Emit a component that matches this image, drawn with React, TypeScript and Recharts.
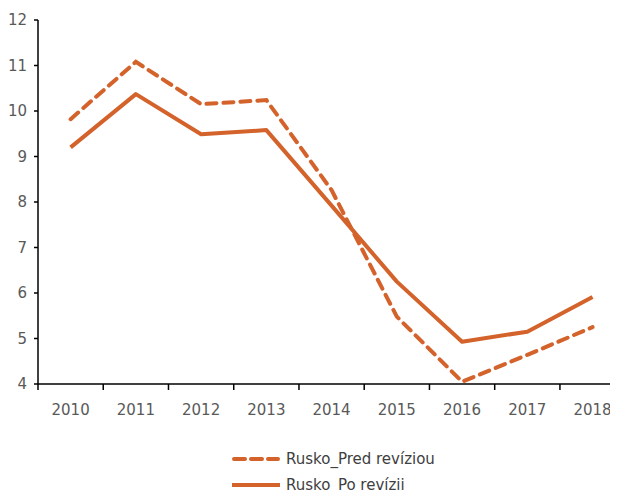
import { LineChart, Line, XAxis, YAxis } from 'recharts';

const years = [2010, 2011, 2012, 2013, 2014, 2015, 2016, 2017, 2018];
const predRevziou = [9.82, 11.08, 10.15, 10.24, 8.26, 5.48, 4.05, 4.64, 5.25];
const poRevizii = [9.2, 10.37, 9.49, 9.58, 7.92, 6.25, 4.93, 5.15, 5.91];
const yTicks = [4, 5, 6, 7, 8, 9, 10, 11, 12];

const data = years.map((year, i) => ({
  year,
  pred: predRevziou[i],
  po: poRevizii[i],
}));

const ORANGE = '#D4622B';
const FONT = "'DejaVu Sans', Verdana, sans-serif";

const CHART_W = 610;
const CHART_H = 485;
const X_AXIS_H = 30;
const MARGIN = { top: 12, right: 0, bottom: 79, left: 0 };
const Y_AXIS_W = 30;
// the original is cropped on the right, so the last year band runs past the edge
const X_DOMAIN: [number, number] = [2009.5, 2018.39];
const band = (CHART_W - MARGIN.left - MARGIN.right - Y_AXIS_W) / (X_DOMAIN[1] - X_DOMAIN[0]);

// label in the middle of each year, tick mark on the boundary to its left
const YearTick = (props: any) => {
  const { x, y, payload } = props;
  const axisY = y - 21;
  return (
    <g>
      <line x1={x - band / 2} x2={x - band / 2} y1={axisY} y2={axisY + 6} stroke="#000" strokeWidth={1.5} />
      <text x={x} y={y - 1} dy="0.71em" textAnchor="middle" fill="#595959" fontSize={15} fontFamily={FONT}>
        {payload.value}
      </text>
    </g>
  );
};

const LegendRows = () => (
  <div style={{ position: 'absolute', top: 438, left: 224, fontFamily: FONT, fontSize: 15, color: '#404040' }}>
    <div style={{ display: 'flex', alignItems: 'center', height: 26 }}>
      <svg width={54} height={26}>
        <line x1={2} x2={46} y1={13} y2={13} stroke={ORANGE} strokeWidth={4} strokeDasharray="11 6" strokeLinecap="round" />
      </svg>
      <span>Rusko_Pred revíziou</span>
    </div>
    <div style={{ display: 'flex', alignItems: 'center', height: 26 }}>
      <svg width={54} height={26}>
        <line x1={0} x2={48} y1={13} y2={13} stroke={ORANGE} strokeWidth={4} />
      </svg>
      <span>Rusko_Po revízii</span>
    </div>
  </div>
);

export default function App() {
  return (
    <div style={{ width: CHART_W, height: CHART_H, overflow: 'hidden', position: 'relative' }}>
      <style>{'html, body { overflow: hidden; }'}</style>
      <LineChart width={CHART_W} height={CHART_H} data={data} margin={MARGIN}>
        <XAxis
          dataKey="year"
          type="number"
          domain={X_DOMAIN}
          ticks={years}
          height={X_AXIS_H}
          tickLine={false}
          tickSize={6}
          tickMargin={15}
          tick={<YearTick />}
          axisLine={{ stroke: '#000', strokeWidth: 1.5 }}
          interval={0}
          allowDataOverflow
        />
        <YAxis
          width={Y_AXIS_W}
          domain={[4, 12]}
          ticks={yTicks}
          interval={0}
          tickSize={4}
          tickMargin={7}
          tick={{ fill: '#595959', fontSize: 15, fontFamily: FONT }}
          tickLine={{ stroke: '#000', strokeWidth: 1.5 }}
          axisLine={{ stroke: '#000', strokeWidth: 1.5 }}
        />
        <Line
          name="Rusko_Pred revíziou"
          dataKey="pred"
          stroke={ORANGE}
          strokeWidth={4}
          strokeDasharray="10 7"
          strokeLinecap="round"
          dot={false}
          isAnimationActive={false}
        />
        <Line
          name="Rusko_Po revízii"
          dataKey="po"
          stroke={ORANGE}
          strokeWidth={4}
          strokeLinejoin="round"
          dot={false}
          isAnimationActive={false}
        />
      </LineChart>
      <LegendRows />
    </div>
  );
}
